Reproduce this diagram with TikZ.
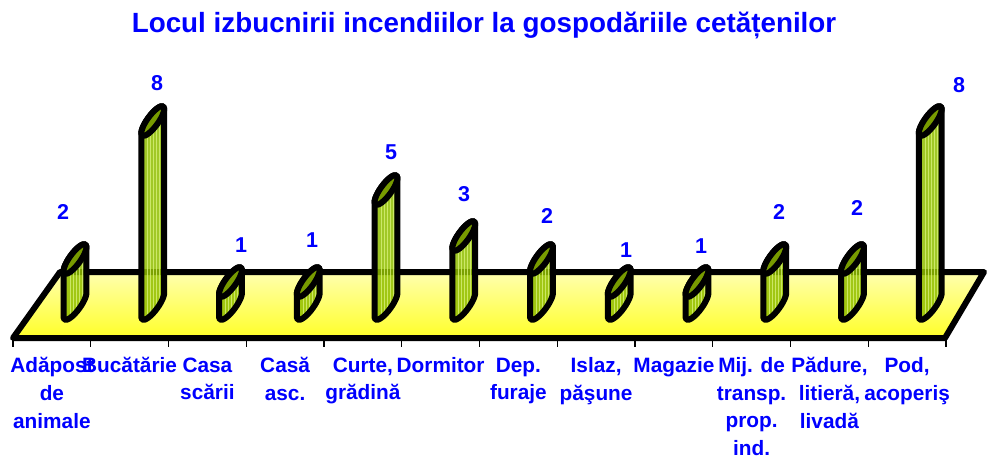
\documentclass[tikz,border=0pt]{standalone}
\usepackage{fontspec}
\setmainfont{Liberation Sans}
\definecolor{labelblue}{RGB}{0,0,255}
\definecolor{barside}{RGB}{145,190,0}
\definecolor{barlight}{RGB}{200,232,70}
\definecolor{barstripe}{RGB}{215,240,120}
\definecolor{bartop}{RGB}{120,155,0}
\definecolor{floorlight}{RGB}{255,255,175}
\definecolor{floordark}{RGB}{255,255,40}
\begin{document}
\begin{tikzpicture}[x=1pt,y=1pt]
\tikzstyle{every node}+=[inner sep=0pt, text=labelblue]
\tikzstyle{catlabel}=[anchor=north, align=center, font=\fontsize{20.8}{27.6}\selectfont\bfseries]
\tikzstyle{vallabel}=[font=\fontsize{21.5}{25}\selectfont\bfseries]
\tikzstyle{outline}=[line width=6pt, line join=round]
\useasboundingbox (0,0) rectangle (989,459);
% title
\node [anchor=base, font=\fontsize{27.8}{32}\selectfont\bfseries] (title) at (484,426)
  {Locul izbucnirii incendiilor la gospodăriile cetățenilor};
% floor
\shade [top color=floorlight, bottom color=floordark] (13,121) -- (945,121) -- (984,187) -- (60,187) -- cycle;
\draw [outline] (13,121) -- (945,121) -- (984,187) -- (60,187) -- cycle;
\foreach \k in {0,...,12}
  \draw [line width=1.2pt] ({13+77.75*\k},119) -- ++(0,-7);
% bars
\foreach \val/\lx/\ly [count=\i] in {2/63/212, 8/157/83, 1/241/245, 1/312/240, 5/391/152, 3/464/194,
    2/547/216, 1/626/250, 1/701/246, 2/779/212, 2/857/208, 8/959/85} {
  \pgfmathsetmacro{\h}{23*\val}
  \pgfmathsetmacro{\bx}{75+77.75*(\i-1)}
  \begin{scope}[shift={(\bx,154)}]
    \begin{scope}
      \clip [rotate=54] (157.2:18 and 5.5) arc [start angle=157.2, end angle=337.2, x radius=18, y radius=5.5]
        -- ++(36:\h) arc [start angle=-22.8, end angle=157.2, x radius=18, y radius=5.5] -- cycle;
      \shade [left color=barside, middle color=barlight, right color=barside, fill opacity=0.85]
        (-13,-16) rectangle (13,\h+16);
      \foreach \s in {-5,-2,1,4,7}
        \draw [barstripe, line width=0.8pt, opacity=0.8] (\s,-16) -- (\s,\h+16);
    \end{scope}
    \draw [outline, rotate=54] (157.2:18 and 5.5) arc [start angle=157.2, end angle=337.2, x radius=18, y radius=5.5]
      -- ++(36:\h) arc [start angle=-22.8, end angle=157.2, x radius=18, y radius=5.5] -- cycle;
    \filldraw [outline, fill=bartop, rotate=54] (36:\h) ellipse [x radius=18, y radius=5.5];
  \end{scope}
  \node [vallabel] (v\i) at (\lx,459-\ly) {\val};
}
% category labels
\node [catlabel] (c1) at (51.9,101.5) {Adăpost\\de\\animale};
\node [catlabel] (c2) at (129.6,101.5) {Bucătărie};
\node [catlabel] (c3) at (207.4,101.5) {Casa\\scării};
\node [catlabel] (c4) at (285.1,101.5) {Casă\\asc.};
\node [catlabel] (c5) at (362.9,101.5) {Curte,\\grădină};
\node [catlabel] (c6) at (440.6,101.5) {Dormitor};
\node [catlabel] (c7) at (518.4,101.5) {Dep.\\furaje};
\node [catlabel] (c8) at (596.1,101.5) {Islaz,\\păşune};
\node [catlabel] (c9) at (673.9,101.5) {Magazie};
\node [catlabel] (c10) at (751.6,101.5) {Mij. de\\transp.\\prop.\\ind.};
\node [catlabel] (c11) at (829.4,101.5) {Pădure,\\litieră,\\livadă};
\node [catlabel] (c12) at (907.1,101.5) {Pod,\\acoperiş};
\end{tikzpicture}
\end{document}
